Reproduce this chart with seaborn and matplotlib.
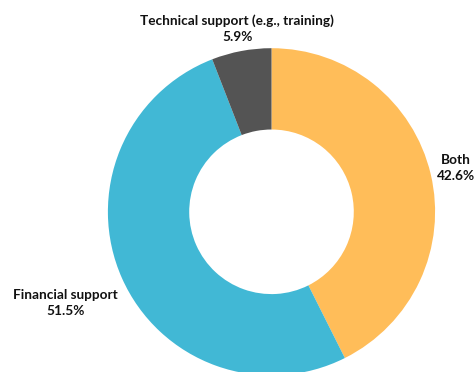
import numpy as np
import matplotlib
matplotlib.use("Agg")
import matplotlib.pyplot as plt
import seaborn as sns

categories = ["Both", "Financial support", "Technical support (e.g., training)"]
shares = [42.6, 51.5, 5.9]
colors = ["#FFBD59", "#41B8D5", "#545454"]
label_radius = [1.16, 1.38, 1.14]

sns.set_theme(style="white")
plt.rcParams["font.family"] = ["Lato", "DejaVu Sans"]

W, H = 477, 372
fig = plt.figure(figsize=(W / 100, H / 100), dpi=100)
ax = fig.add_axes([0, 0, 1, 1])

cx, cy, r = 271.5, H - 211.8, 163.6
wedges, _ = ax.pie(
    shares,
    colors=colors,
    startangle=90,
    counterclock=False,
    center=(cx, cy),
    radius=r,
    wedgeprops=dict(width=r * 0.497, edgecolor="none", linewidth=0),
)

for w, name, val, d in zip(wedges, categories, shares, label_radius):
    mid = np.deg2rad((w.theta1 + w.theta2) / 2)
    x = cx + r * d * np.cos(mid)
    y = cy + r * d * np.sin(mid)
    ax.text(x, y, f"{name}\n{val}%", ha="center", va="center",
            fontsize=9.8, fontweight="bold", color="#111111",
            linespacing=1.4)

ax.set_xlim(0, W)
ax.set_ylim(0, H)
ax.set_aspect("equal")
ax.axis("off")
fig.savefig("out.png", dpi=100)
